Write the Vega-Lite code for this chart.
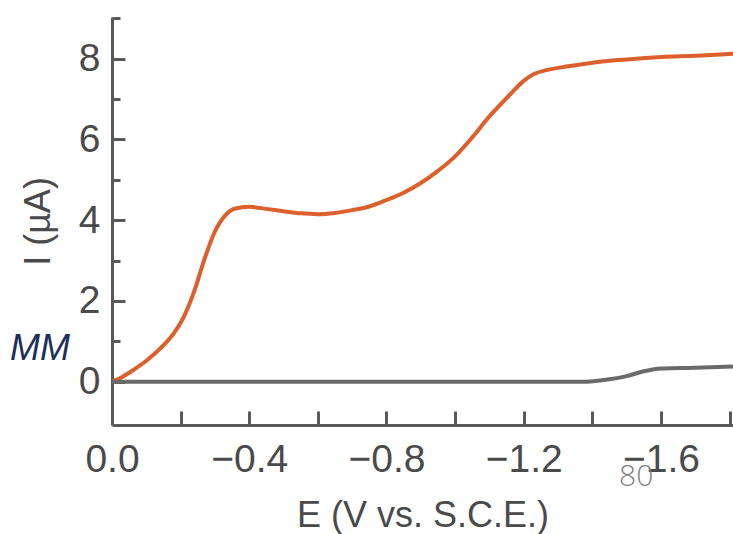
{
  "$schema": "https://vega.github.io/schema/vega-lite/v6.json",
  "width": 621,
  "height": 408,
  "autosize": {"type": "none"},
  "padding": {"left": 112, "top": 17, "right": 0, "bottom": 109},
  "background": "white",
  "config": {"view": {"stroke": null}},
  "datasets": {
    "curves": [
      {"E": 0, "I": 0, "s": "sample"},
      {"E": -0.03, "I": 0.12, "s": "sample"},
      {"E": -0.06, "I": 0.28, "s": "sample"},
      {"E": -0.10, "I": 0.52, "s": "sample"},
      {"E": -0.14, "I": 0.82, "s": "sample"},
      {"E": -0.18, "I": 1.20, "s": "sample"},
      {"E": -0.21, "I": 1.62, "s": "sample"},
      {"E": -0.24, "I": 2.25, "s": "sample"},
      {"E": -0.27, "I": 3.05, "s": "sample"},
      {"E": -0.30, "I": 3.72, "s": "sample"},
      {"E": -0.33, "I": 4.12, "s": "sample"},
      {"E": -0.36, "I": 4.29, "s": "sample"},
      {"E": -0.40, "I": 4.33, "s": "sample"},
      {"E": -0.45, "I": 4.28, "s": "sample"},
      {"E": -0.50, "I": 4.22, "s": "sample"},
      {"E": -0.55, "I": 4.17, "s": "sample"},
      {"E": -0.60, "I": 4.15, "s": "sample"},
      {"E": -0.65, "I": 4.18, "s": "sample"},
      {"E": -0.70, "I": 4.25, "s": "sample"},
      {"E": -0.75, "I": 4.34, "s": "sample"},
      {"E": -0.80, "I": 4.50, "s": "sample"},
      {"E": -0.85, "I": 4.68, "s": "sample"},
      {"E": -0.90, "I": 4.92, "s": "sample"},
      {"E": -0.95, "I": 5.22, "s": "sample"},
      {"E": -1.00, "I": 5.58, "s": "sample"},
      {"E": -1.05, "I": 6.05, "s": "sample"},
      {"E": -1.10, "I": 6.57, "s": "sample"},
      {"E": -1.15, "I": 7.02, "s": "sample"},
      {"E": -1.20, "I": 7.45, "s": "sample"},
      {"E": -1.23, "I": 7.62, "s": "sample"},
      {"E": -1.27, "I": 7.72, "s": "sample"},
      {"E": -1.33, "I": 7.81, "s": "sample"},
      {"E": -1.40, "I": 7.90, "s": "sample"},
      {"E": -1.50, "I": 7.98, "s": "sample"},
      {"E": -1.60, "I": 8.04, "s": "sample"},
      {"E": -1.70, "I": 8.07, "s": "sample"},
      {"E": -1.81, "I": 8.12, "s": "sample"},
      {"E": 0, "I": 0, "s": "blank"},
      {"E": -0.5, "I": 0, "s": "blank"},
      {"E": -1.0, "I": 0, "s": "blank"},
      {"E": -1.38, "I": 0, "s": "blank"},
      {"E": -1.45, "I": 0.06, "s": "blank"},
      {"E": -1.50, "I": 0.14, "s": "blank"},
      {"E": -1.55, "I": 0.26, "s": "blank"},
      {"E": -1.60, "I": 0.33, "s": "blank"},
      {"E": -1.70, "I": 0.35, "s": "blank"},
      {"E": -1.81, "I": 0.38, "s": "blank"}
    ],
    "notes": [
      {"E": 0.21, "I": 0.8, "t": "MM", "k": "mm"},
      {"E": -1.528, "I": -2.35, "t": "80", "k": "page"}
    ]
  },
  "layer": [
    {
      "data": {"name": "curves"},
      "mark": {"type": "line", "interpolate": "monotone", "strokeWidth": 4, "clip": true},
      "encoding": {
        "x": {
          "field": "E", "type": "quantitative",
          "scale": {"domain": [0, -1.81], "nice": false, "zero": false},
          "axis": {
            "title": "E (V vs. S.C.E.)",
            "values": [0, -0.1, -0.2, -0.3, -0.4, -0.5, -0.6, -0.7, -0.8, -0.9, -1.0, -1.1, -1.2, -1.3, -1.4, -1.5, -1.6, -1.7, -1.8],
            "labelExpr": "round(abs(datum.value)*10) % 4 == 0 ? format(datum.value, '.1f') : ''",
            "grid": false,
            "domainColor": "#5a5a5a", "domainWidth": 3,
            "tickColor": "#5a5a5a", "tickWidth": 3,
            "tickSize": {"condition": {"test": "round(abs(datum.value)*10) % 2 == 0", "value": -14}, "value": -8},
            "labelFont": "Liberation Sans", "labelFontSize": 39, "labelColor": "#4a4a4a",
            "labelPadding": 29, "labelFlush": false, "labelOverlap": false,
            "titleFont": "Liberation Sans", "titleFontSize": 36, "titleFontWeight": "normal", "titleColor": "#4a4a4a",
            "titlePadding": 19
          }
        },
        "y": {
          "field": "I", "type": "quantitative",
          "scale": {"domain": [-1.07, 9.03], "nice": false, "zero": false},
          "axis": {
            "title": "I (µA)",
            "values": [0, 1, 2, 3, 4, 5, 6, 7, 8, 9],
            "labelExpr": "datum.value % 2 == 0 && datum.value < 9 ? format(datum.value, 'd') : ''",
            "grid": false,
            "domainColor": "#5a5a5a", "domainWidth": 3,
            "tickColor": "#5a5a5a", "tickWidth": 3,
            "tickSize": {"condition": {"test": "datum.value % 2 == 0", "value": -13}, "value": -8},
            "labelFont": "Liberation Sans", "labelFontSize": 39, "labelColor": "#4a4a4a",
            "labelPadding": 25, "labelFlush": false, "labelOverlap": false,
            "titleFont": "Liberation Sans", "titleFontSize": 36, "titleFontWeight": "normal", "titleColor": "#4a4a4a",
            "titlePadding": 21
          }
        },
        "color": {
          "field": "s", "type": "nominal",
          "scale": {"domain": ["sample", "blank"], "range": ["#dd5f2c", "#6a6a6a"]},
          "legend": null
        },
        "order": {"field": "E", "sort": "descending"}
      }
    },
    {
      "data": {"name": "notes"},
      "transform": [{"filter": "datum.k == 'mm'"}],
      "mark": {"type": "text", "font": "Liberation Sans", "fontSize": 36, "fontStyle": "italic", "fontWeight": "normal", "color": "#1c2f5a", "align": "center", "baseline": "middle"},
      "encoding": {
        "x": {"field": "E", "type": "quantitative"},
        "y": {"field": "I", "type": "quantitative"},
        "text": {"field": "t"}
      }
    },
    {
      "data": {"name": "notes"},
      "transform": [{"filter": "datum.k == 'page'"}],
      "mark": {"type": "text", "font": "Open Sans", "fontSize": 30, "fontWeight": 300, "color": "#7f7f7f", "align": "center", "baseline": "middle"},
      "encoding": {
        "x": {"field": "E", "type": "quantitative"},
        "y": {"field": "I", "type": "quantitative"},
        "text": {"field": "t"}
      }
    }
  ]
}
